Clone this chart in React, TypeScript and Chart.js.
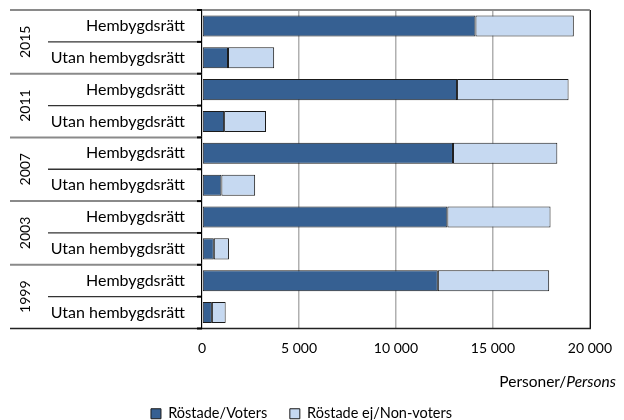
import React, { useEffect, useRef } from "react";
import { Chart, registerables } from "chart.js";

Chart.register(...registerables);

const years = ["2015", "2011", "2007", "2003", "1999"];
const rowLabels = [
  "Hembygdsrätt", "Utan hembygdsrätt",
  "Hembygdsrätt", "Utan hembygdsrätt",
  "Hembygdsrätt", "Utan hembygdsrätt",
  "Hembygdsrätt", "Utan hembygdsrätt",
  "Hembygdsrätt", "Utan hembygdsrätt",
];
const voters = [14100, 1340, 13150, 1140, 12940, 1000, 12650, 610, 12160, 510];
const nonVoters = [5070, 2380, 5750, 2160, 5380, 1740, 5320, 780, 5740, 710];
const seriesNames = ["Röstade/Voters", "Röstade ej/Non-voters"];
const xTicks = [0, 5000, 10000, 15000, 20000];
const axisTitleNormal = "Personer/";
const axisTitleItalic = "Persons";

const FONT = "Lato";

const fmt = (v: number) => String(v).replace(/\B(?=(\d{3})+(?!\d))/g, " ");

const decor = {
  id: "decor",
  afterDraw(chart: any) {
    const ctx = chart.ctx;
    const a = chart.chartArea;
    const n = rowLabels.length;
    const rowH = (a.bottom - a.top) / n;
    ctx.save();
    // plot frame
    ctx.lineWidth = 2;
    ctx.strokeStyle = "#8a8a8a";
    ctx.beginPath();
    ctx.moveTo(10, a.top);
    ctx.lineTo(a.right, a.top);
    ctx.stroke();
    ctx.lineWidth = 1;
    ctx.strokeStyle = "#000";
    ctx.beginPath();
    ctx.moveTo(a.right + 0.5, a.top);
    ctx.lineTo(a.right + 0.5, a.bottom);
    ctx.moveTo(a.left - 0.5, a.top);
    ctx.lineTo(a.left - 0.5, a.bottom);
    ctx.stroke();
    ctx.lineWidth = 1.5;
    ctx.strokeStyle = "#222";
    ctx.beginPath();
    ctx.moveTo(10, a.bottom);
    ctx.lineTo(a.right + 1, a.bottom);
    ctx.stroke();
    // row dividers in label area
    for (let i = 1; i < n; i++) {
      const y = a.top + i * rowH;
      ctx.beginPath();
      if (i % 2 === 0) {
        ctx.lineWidth = 2;
        ctx.strokeStyle = "#8a8a8a";
        ctx.moveTo(10, y);
      } else {
        ctx.lineWidth = 1.3;
        ctx.strokeStyle = "#333";
        ctx.moveTo(48, y);
      }
      ctx.lineTo(a.left, y);
      ctx.stroke();
    }
    // small tick stubs
    ctx.lineWidth = 2;
    ctx.strokeStyle = "#000";
    for (let i = 0; i <= n; i++) {
      const y = a.top + i * rowH;
      ctx.beginPath();
      ctx.moveTo(a.left - 5, y);
      ctx.lineTo(a.left, y);
      ctx.stroke();
    }
    // year labels
    ctx.fillStyle = "#000";
    ctx.font = `14px ${FONT}`;
    ctx.textAlign = "center";
    ctx.textBaseline = "middle";
    years.forEach((yr, g) => {
      const cy = a.top + (g * 2 + 1) * rowH;
      ctx.save();
      ctx.translate(25, cy);
      ctx.rotate(-Math.PI / 2);
      ctx.fillText(yr, 0, 0);
      ctx.restore();
    });
    // axis title
    ctx.textAlign = "left";
    const fs = 15.5;
    ctx.font = `italic ${fs}px ${FONT}`;
    const wI = ctx.measureText(axisTitleItalic).width;
    ctx.font = `${fs}px ${FONT}`;
    const wN = ctx.measureText(axisTitleNormal).width;
    const xEnd = 616;
    const ty = 382;
    ctx.fillText(axisTitleNormal, xEnd - wI - wN, ty);
    ctx.font = `italic ${fs}px ${FONT}`;
    ctx.fillText(axisTitleItalic, xEnd - wI, ty);
    ctx.restore();
  },
};

export default function App() {
  const ref = useRef<HTMLCanvasElement>(null);
  useEffect(() => {
    document.body.style.margin = "0";
    const chart = new Chart(ref.current!, {
      type: "bar",
      data: {
        labels: rowLabels,
        datasets: [
          {
            label: seriesNames[0],
            data: voters,
            backgroundColor: "#366092",
            borderColor: "#1a1a1a",
            borderWidth: 1,
            borderSkipped: false,
          },
          {
            label: seriesNames[1],
            data: nonVoters,
            backgroundColor: "#c6d9f1",
            borderColor: "#1a1a1a",
            borderWidth: 1,
            borderSkipped: false,
          },
        ],
      },
      options: {
        indexAxis: "y",
        animation: false,
        responsive: false,
        maintainAspectRatio: false,
        layout: { padding: { left: 10, right: 31, top: 10, bottom: -11 } },
        datasets: { bar: { categoryPercentage: 0.66, barPercentage: 1 } },
        scales: {
          x: {
            stacked: true,
            min: 0,
            max: 20000,
            afterBuildTicks: (s: any) => {
              s.ticks = xTicks.map((v) => ({ value: v }));
            },
            afterFit: (s: any) => {
              s.height = 74;
            },
            grid: { color: "#b0b0b0", lineWidth: 1.5, drawTicks: false },
            border: { display: false },
            ticks: {
              padding: 12,
              color: "#000",
              font: { family: FONT, size: 14 },
              callback: (v: any) => fmt(Number(v)),
              maxRotation: 0,
            },
          },
          y: {
            stacked: true,
            afterFit: (s: any) => {
              s.width = 192;
              s.paddingTop = 0;
              s.paddingBottom = 0;
            },
            grid: { display: false, drawTicks: false },
            border: { display: false },
            ticks: {
              padding: 17,
              color: "#000",
              font: { family: FONT, size: 16 },
            },
          },
        },
        plugins: {
          tooltip: { enabled: false },
          legend: {
            position: "bottom",
            labels: {
              color: "#000",
              font: { family: FONT, size: 14.5 },
              boxWidth: 10,
              boxHeight: 10,
              padding: 4,
              generateLabels: (c: any) => {
                const items = Chart.defaults.plugins.legend.labels.generateLabels(c);
                return items.map((it: any, i: number) =>
                  i < items.length - 1 ? { ...it, text: it.text + "     " } : it
                );
              },
            },
          },
        },
      },
      plugins: [decor],
    } as any);
    return () => chart.destroy();
  }, []);
  return <canvas ref={ref} width={624} height={420} style={{ display: "block" }} />;
}
